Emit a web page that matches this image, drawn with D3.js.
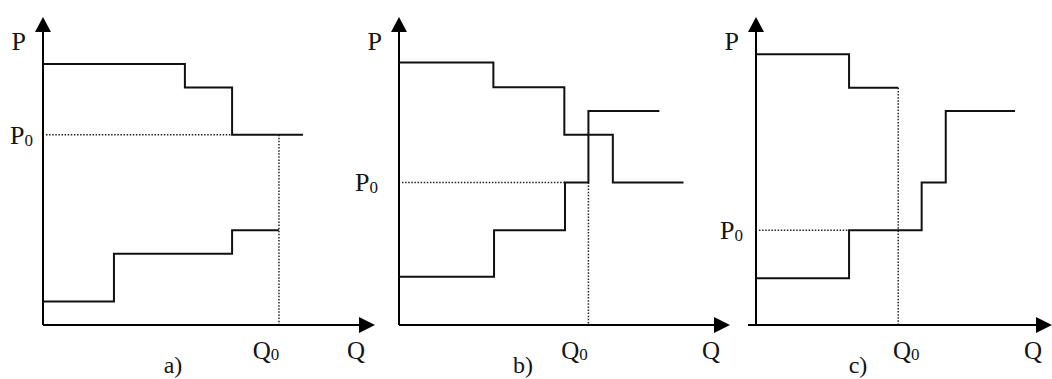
<!DOCTYPE html>
<html>
<head>
<meta charset="utf-8">
<script src="https://cdn.jsdelivr.net/npm/d3@7"></script>
<style>
  html, body { margin: 0; padding: 0; background: #fff; }
  svg { display: block; }
  text { font-family: "Liberation Serif", "Times New Roman", serif; fill: #141414; }
</style>
</head>
<body>
<svg id="chart" width="1052" height="379"></svg>
<script>
// ---- data (abstract units: Q and P on 0..100 scales) ----
const panels = ["a)", "b)", "c)"];
const axisLabelP = "P";
const axisLabelQ = "Q";
const equilibriumPrice = [61.8, 46.3, 30.8];      // P0 per panel
const equilibriumQuantity = [71.5, 57.4, 43.1];   // Q0 per panel
const qAxisMax = [100.6, 100.3, 89.7];

// demand step curves: [Q, P] points (step after)
const demandA = [[0, 84.7], [43, 77.1], [57.3, 61.8], [78.8, 61.8]];
const demandB = [[0, 85.2], [28.6, 77.2], [50.1, 61.8], [64.8, 46.3], [86.2, 46.3]];
const demandC = [[0, 87.9], [28.2, 77.0], [43.1, 77.0]];
// supply step curves
const supplyA = [[0, 7.6], [21.5, 23.1], [57.3, 30.8], [71.5, 30.8]];
const supplyB = [[0, 15.7], [28.8, 30.8], [50.3, 46.3], [57.4, 69.5], [78.9, 69.5]];
const supplyC = [[0, 15.2], [28.2, 30.8], [50.2, 46.3], [57.5, 69.5], [78.5, 69.5]];

const demand = [demandA, demandB, demandC];
const supply = [supplyA, supplyB, supplyC];
// where the dotted P0 guide ends (Q) and where the Q0 guide starts (P)
const p0GuideEnd = [57.3, 50.3, 28.2];
const q0GuideTop = [61.8, 46.3, 77.0];

// ---- layout ----
const originX = [43, 399, 756];
const originY = 325, topY = 17;
const pxPerQ = 3.3;
const xAxisStartOffset = [0, 0, -8];
const p0LabelGap = [10, 21, 13];
const q0LabelShift = [-13, -14, 8];
const panelLabelX = [173, 523, 858];

const svg = d3.select("#chart");

panels.forEach((name, i) => {
  const x = d3.scaleLinear().domain([0, 100]).range([originX[i], originX[i] + 100 * pxPerQ]);
  const y = d3.scaleLinear().domain([0, 100]).range([originY, topY]);
  const g = svg.append("g");

  const x0 = x(0), y0 = y(0);
  const xTip = x(qAxisMax[i]), yTip = y(100);

  // dotted guides
  g.append("line")
    .attr("x1", x0 + 3).attr("x2", x(p0GuideEnd[i]))
    .attr("y1", y(equilibriumPrice[i])).attr("y2", y(equilibriumPrice[i]))
    .attr("stroke", "#222").attr("stroke-width", 1.5).attr("stroke-dasharray", "1.5,1.6");
  g.append("line")
    .attr("x1", x(equilibriumQuantity[i])).attr("x2", x(equilibriumQuantity[i]))
    .attr("y1", y(q0GuideTop[i])).attr("y2", y0)
    .attr("stroke", "#222").attr("stroke-width", 1.5).attr("stroke-dasharray", "1.5,1.6");

  // axes
  g.append("line").attr("x1", x0).attr("x2", x0).attr("y1", y0).attr("y2", yTip + 10)
    .attr("stroke", "#000").attr("stroke-width", 2);
  g.append("line").attr("x1", x0 + xAxisStartOffset[i]).attr("x2", xTip - 10).attr("y1", y0).attr("y2", y0)
    .attr("stroke", "#000").attr("stroke-width", 2);
  // arrowheads
  g.append("path")
    .attr("d", `M${x0},${yTip} L${x0 - 8},${yTip + 15} L${x0 + 8},${yTip + 15} Z`)
    .attr("fill", "#000");
  g.append("path")
    .attr("d", `M${xTip},${y0} L${xTip - 16},${y0 - 8} L${xTip - 16},${y0 + 8} Z`)
    .attr("fill", "#000");

  // step curves
  const line = d3.line().x(d => x(d[0])).y(d => y(d[1])).curve(d3.curveStepAfter);
  [demand[i], supply[i]].forEach(curve => {
    g.append("path").attr("d", line(curve))
      .attr("fill", "none").attr("stroke", "#111").attr("stroke-width", 2);
  });

  // labels
  g.append("text").attr("x", x0 - 17).attr("y", yTip + 33)
    .attr("text-anchor", "end").attr("font-size", 26).text(axisLabelP);

  const p0 = g.append("text").attr("x", x0 - p0LabelGap[i]).attr("y", y(equilibriumPrice[i]) + 9)
    .attr("text-anchor", "end").attr("font-size", 26);
  p0.append("tspan").text(axisLabelP);
  p0.append("tspan").attr("font-size", 17).attr("dy", 2).text("0");

  const q0 = g.append("text").attr("x", x(equilibriumQuantity[i]) + q0LabelShift[i]).attr("y", 359)
    .attr("text-anchor", "middle").attr("font-size", 25);
  q0.append("tspan").text(axisLabelQ);
  q0.append("tspan").attr("font-size", 17).attr("dy", 1).text("0");

  g.append("text").attr("x", xTip - 10).attr("y", 359)
    .attr("text-anchor", "end").attr("font-size", 25).text(axisLabelQ);

  g.append("text").attr("x", panelLabelX[i]).attr("y", 373)
    .attr("text-anchor", "middle").attr("font-size", 24).text(name);
});
</script>
</body>
</html>
